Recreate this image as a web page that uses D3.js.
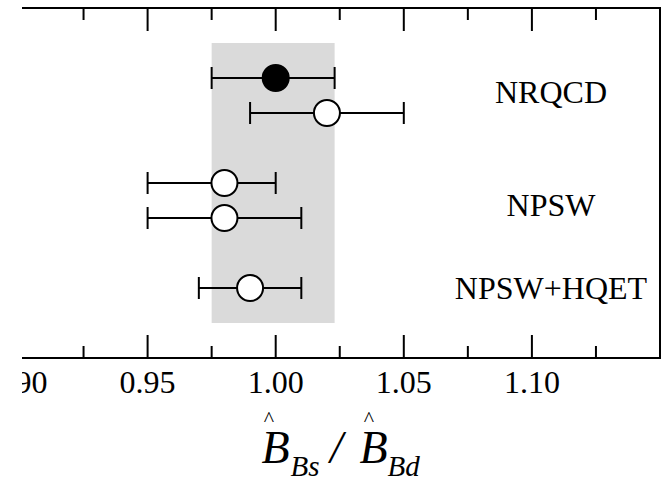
<!DOCTYPE html>
<html>
<head>
<meta charset="utf-8">
<script src="https://cdn.jsdelivr.net/npm/d3@7"></script>
<style>
  body { margin: 0; background: #fff; }
  svg { display: block; }
  text { font-family: "Liberation Serif", "Times New Roman", serif; fill: #000; }
</style>
</head>
<body>
<svg id="chart" width="667" height="478"></svg>
<script>
// row index of each measurement (top to bottom)
const rows = [0, 1, 3, 4, 6];
const centers = [1.000, 1.020, 0.980, 0.980, 0.990];
const lows = [0.975, 0.990, 0.950, 0.950, 0.970];
const highs = [1.023, 1.050, 1.000, 1.010, 1.010];
const filled = [true, false, false, false, false];

const groupNames = ["NRQCD", "NPSW", "NPSW+HQET"];
const groupRows = [0.4, 3.65, 6];

const band = [0.975, 1.023];
const majorTicks = [0.90, 0.95, 1.00, 1.05, 1.10];
const minorTicks = [0.925, 0.975, 1.025, 1.075, 1.125];

const svg = d3.select("#chart");
const plotL = 19.5, plotR = 660, plotT = 8, plotB = 358;

const x = d3.scaleLinear().domain([0.90, 1.15]).range([plotL, plotR]);
const y = d3.scaleLinear().domain([-2, 8]).range([plotT, plotB]);

// grey band
svg.append("rect")
    .attr("x", x(band[0]))
    .attr("width", x(band[1]) - x(band[0]))
    .attr("y", y(-1))
    .attr("height", y(7) - y(-1))
    .attr("fill", "#dadada");

// frame + ticks
const frame = svg.append("g").attr("stroke", "#000").attr("stroke-width", 2).attr("fill", "none");
frame.append("rect")
    .attr("x", plotL).attr("y", plotT)
    .attr("width", plotR - plotL).attr("height", plotB - plotT);

const allTicks = majorTicks.map(d => ({v: d, len: 23})).concat(minorTicks.map(d => ({v: d, len: 12})));
allTicks.forEach(function(t) {
    frame.append("line").attr("x1", x(t.v)).attr("x2", x(t.v)).attr("y1", plotT).attr("y2", plotT + t.len);
    frame.append("line").attr("x1", x(t.v)).attr("x2", x(t.v)).attr("y1", plotB).attr("y2", plotB - t.len);
});

// tick labels
svg.selectAll(".tl")
    .data(majorTicks)
    .enter().append("text")
    .attr("class", "tl")
    .attr("x", d => x(d))
    .attr("y", 393)
    .attr("text-anchor", "middle")
    .style("font-size", "32px")
    .text(d => d3.format(".2f")(d));

// error bars
const pts = rows.map((r, i) => ({r: r, c: centers[i], lo: lows[i], hi: highs[i], f: filled[i]}));
const eb = svg.append("g").attr("stroke", "#000").attr("stroke-width", 2);
pts.forEach(function(p) {
    eb.append("line").attr("x1", x(p.lo)).attr("x2", x(p.hi)).attr("y1", y(p.r)).attr("y2", y(p.r));
    eb.append("line").attr("x1", x(p.lo)).attr("x2", x(p.lo)).attr("y1", y(p.r) - 11).attr("y2", y(p.r) + 11);
    eb.append("line").attr("x1", x(p.hi)).attr("x2", x(p.hi)).attr("y1", y(p.r) - 11).attr("y2", y(p.r) + 11);
});

svg.selectAll(".pt")
    .data(pts)
    .enter().append("circle")
    .attr("class", "pt")
    .attr("cx", d => x(d.c))
    .attr("cy", d => y(d.r))
    .attr("r", 13)
    .attr("fill", d => d.f ? "#000" : "#fff")
    .attr("stroke", "#000")
    .attr("stroke-width", 2);

// group labels
svg.selectAll(".gl")
    .data(groupNames)
    .enter().append("text")
    .attr("class", "gl")
    .attr("x", 551)
    .attr("y", (d, i) => y(groupRows[i]))
    .attr("dy", "0.33em")
    .attr("text-anchor", "middle")
    .style("font-size", "32px")
    .text(d => d);

// crop on the left like the original figure
svg.append("rect").attr("x", 0).attr("y", 0).attr("width", 22).attr("height", 478).attr("fill", "#fff");

// axis title  B^_Bs / B^_Bd
const title = svg.append("text")
    .attr("y", 463)
    .style("font-style", "italic")
    .style("font-size", "46px");
title.append("tspan").attr("x", 261.5).text("B");
title.append("tspan").attr("x", 290.5).attr("dy", 13).style("font-size", "29px").text("Bs");
title.append("tspan").attr("x", 330).attr("dy", -13).text("/");
title.append("tspan").attr("x", 359.5).text("B");
title.append("tspan").attr("x", 387.5).attr("dy", 13).style("font-size", "29px").text("Bd");

svg.selectAll(".hat")
    .data([269, 369])
    .enter().append("text")
    .attr("class", "hat")
    .attr("x", d => d)
    .attr("y", 426)
    .attr("text-anchor", "middle")
    .style("font-size", "22px")
    .text("^");
</script>
</body>
</html>
